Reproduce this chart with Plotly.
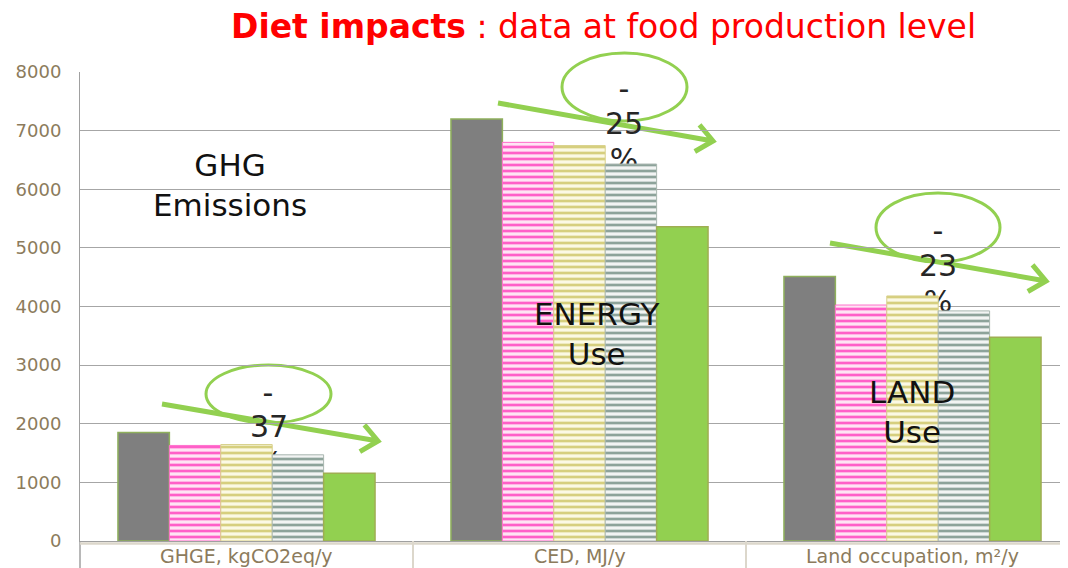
import math
import plotly.graph_objects as go

# ---------------- data ----------------
categories = ["GHGE, kgCO2eq/y", "CED, MJ/y", "Land occupation, m²/y"]
series_names = ["Diet 1", "Diet 2", "Diet 3", "Diet 4", "Diet 5"]
diet1 = [1850, 7200, 4510]
diet2 = [1630, 6800, 4025]
diet3 = [1645, 6745, 4180]
diet4 = [1470, 6430, 3925]
diet5 = [1155, 5360, 3475]
reductions = ["37", "25", "23"]
y_ticks = [0, 1000, 2000, 3000, 4000, 5000, 6000, 7000, 8000]

# ---------------- layout constants (window pixel coords) ----------------
W, H = 1068, 568
OFF = 8                      # page body margin of the html page
PL, PT, PBOT = 80, 72, 541   # plot area in window pixels
PR = W + OFF                 # plot area runs past the right window edge
PW, PH = PR - PL, PBOT - PT
UNIT = 333.0                 # pixels per category
X_RANGE = [-0.5, -0.5 + PW / UNIT]
Y_RANGE = [0, 8000]


def pp(px, py):
    """window pixel -> paper"""
    return (px - PL) / PW, (PBOT - py) / PH


def pd(px, py):
    """window pixel -> data of base axes"""
    return X_RANGE[0] + (px - PL) / UNIT, Y_RANGE[0] + (PBOT - py) / PH * (Y_RANGE[1] - Y_RANGE[0])


GREEN = "#92d050"
TXT = "#8c7b5c"

styles = [
    dict(color="#7f7f7f", line=dict(color="#8fb05c", width=1.5)),
    dict(color="#ffe0f2", line=dict(color="#ff70cc", width=1),
         pattern=dict(shape="-", fgcolor="#ff5fc8", bgcolor="#ffe4f4", size=6, solidity=0.45, fillmode="replace")),
    dict(color="#fbf9e2", line=dict(color="#d8d08a", width=1),
         pattern=dict(shape="-", fgcolor="#d6cf7e", bgcolor="#fbf9e4", size=6, solidity=0.45, fillmode="replace")),
    dict(color="#eef1ef", line=dict(color="#a9b7b0", width=1),
         pattern=dict(shape="-", fgcolor="#8da39a", bgcolor="#f2f4f3", size=6, solidity=0.45, fillmode="replace")),
    dict(color=GREEN, line=dict(color="#9fae52", width=1.5)),
]

fig = go.Figure()

# text that sits behind the bars (base axes)
txt_pos = [
    [(268, 395), (269, 429), (269, 465)],
    [(624, 91), (624, 126), (624, 162)],
    [(938, 233), (938, 268), (938, 304)],
]
tx, ty, tt = [], [], []
for (pos, red) in zip(txt_pos, reductions):
    for (p, s) in zip(pos, ["-", red, "%"]):
        x, y = pd(*p)
        tx.append(x)
        ty.append(y)
        tt.append(s)
fig.add_trace(go.Scatter(x=tx, y=ty, text=tt, mode="text", textposition="middle center",
                         textfont=dict(family="DejaVu Sans", size=30, color="#262626"),
                         showlegend=False, hoverinfo="skip", xaxis="x", yaxis="y"))

series = [diet1, diet2, diet3, diet4, diet5]
for name, vals, st in zip(series_names, series, styles):
    fig.add_trace(go.Bar(name=name, x=categories, y=vals, marker=st, xaxis="x2", yaxis="y2"))

shapes = []
# ellipses
for (x0, y0, x1, y1) in [(206, 365, 331, 423), (562, 53, 687, 121), (876, 193, 1000, 262)]:
    a0, b0 = pp(x0, y1)
    a1, b1 = pp(x1, y0)
    shapes.append(dict(type="circle", xref="paper", yref="paper", x0=a0, y0=b0, x1=a1, y1=b1,
                       line=dict(color=GREEN, width=3), layer="between"))
# arrows
for (sx, sy, ex, ey) in [(162, 404, 378, 441), (498, 103, 713, 141), (830, 243, 1046, 281)]:
    ang = math.atan2(ey - sy, ex - sx)
    arms = []
    for d in (math.radians(140), -math.radians(140)):
        arms.append((ex + 21 * math.cos(ang + d), ey + 21 * math.sin(ang + d)))
    P = lambda q: "%.5f,%.5f" % pp(*q)
    path = "M%s L%s M%s L%s L%s" % (P((sx, sy)), P((ex - 3 * math.cos(ang), ey - 3 * math.sin(ang))),
                                     P(arms[0]), P((ex, ey)), P(arms[1]))
    shapes.append(dict(type="path", xref="paper", yref="paper", path=path,
                       line=dict(color=GREEN, width=5), layer="between"))
# category separators below the axis
for i, bx in enumerate([X_RANGE[0], 0.5, 1.5]):
    xp = (bx - X_RANGE[0]) / (X_RANGE[1] - X_RANGE[0])
    shapes.append(dict(type="line", xref="paper", yref="paper", x0=xp, x1=xp, y0=0, y1=-(H - PBOT) / PH,
                       line=dict(color="#a0a0a0" if i == 0 else "#dcd7cb", width=1.5 if i == 0 else 2),
                       layer="above"))
shapes.append(dict(type="line", xref="paper", yref="paper", x0=0, x1=1, y0=-2.5 / PH, y1=-2.5 / PH,
                   line=dict(color="#dcd7cb", width=2.5), layer="above"))

annotations = [
    dict(xref="paper", yref="paper", x=pp(603, 0)[0], y=pp(0, 27)[1], showarrow=False,
         text="<b>Diet impacts</b> : data at food production level",
         font=dict(family="DejaVu Sans", size=33, color="#ff0000"), xanchor="center", yanchor="middle"),
]
for (txt, cx, cy) in [("GHG<br>Emissions", 230, 185), ("ENERGY<br>Use", 596, 334), ("LAND<br>Use", 912, 412)]:
    a, b = pp(cx, cy)
    annotations.append(dict(xref="paper", yref="paper", x=a, y=b, showarrow=False, text=txt,
                            font=dict(family="DejaVu Sans", size=31, color="#111111"),
                            xanchor="center", yanchor="middle", align="center"))
# category labels
for i, c in enumerate(categories):
    annotations.append(dict(xref="x", yref="paper", x=i, y=pp(0, 556)[1], showarrow=False, text=c,
                            font=dict(family="DejaVu Sans", size=19, color=TXT),
                            xanchor="center", yanchor="middle"))

fig.update_layout(
    width=W, height=H,
    margin=dict(l=PL - OFF, r=W - (PR - OFF), t=PT - OFF, b=H - (PBOT - OFF), pad=0, autoexpand=False),
    paper_bgcolor="white", plot_bgcolor="white",
    barmode="group", bargap=0.228, bargroupgap=0,
    showlegend=False,
    shapes=shapes, annotations=annotations,
    xaxis=dict(range=X_RANGE, showticklabels=False, showgrid=False, zeroline=False,
               showline=True, linecolor="#a0a0a0", linewidth=1, ticks=""),
    yaxis=dict(range=Y_RANGE, tickvals=y_ticks, showgrid=True, gridcolor="#a6a6a6", gridwidth=1.2,
               zeroline=False, showline=True, linecolor="#a0a0a0", linewidth=1, ticks="",
               ticklabelstandoff=14,
               tickfont=dict(family="DejaVu Sans", size=18, color=TXT)),
    xaxis2=dict(range=X_RANGE, overlaying="x", visible=False, type="category",
                categoryorder="array", categoryarray=categories),
    yaxis2=dict(range=Y_RANGE, overlaying="y", visible=False),
)

fig.write_html("out.html")
